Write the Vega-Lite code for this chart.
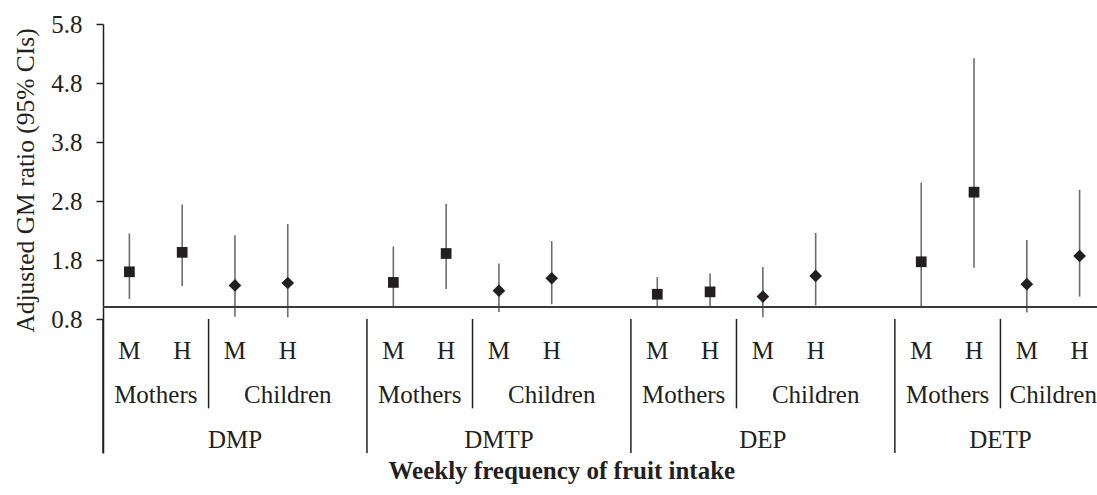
{
  "$schema": "https://vega.github.io/schema/vega-lite/v6.json",
  "width": 994,
  "height": 429,
  "autosize": {"type": "none"},
  "padding": {"left": 103, "top": 24, "right": 0, "bottom": 42},
  "background": "white",
  "config": {
    "view": {"stroke": null},
    "font": "Liberation Serif",
    "text": {"font": "Liberation Serif"}
  },
  "title": {
    "text": "Weekly frequency of fruit intake",
    "orient": "bottom",
    "anchor": "middle",
    "frame": "bounds",
    "font": "Liberation Serif",
    "fontSize": 25,
    "fontWeight": "bold",
    "color": "#231f20",
    "offset": 5,
    "dx": 6
  },
  "datasets": {
    "est": [
      {"slot": "DMP-Mothers-M", "index": "DMP", "who": "Mothers", "freq": "M", "gm": 1.60, "lo": 1.14, "hi": 2.25},
      {"slot": "DMP-Mothers-H", "index": "DMP", "who": "Mothers", "freq": "H", "gm": 1.93, "lo": 1.36, "hi": 2.74},
      {"slot": "DMP-Children-M", "index": "DMP", "who": "Children", "freq": "M", "gm": 1.37, "lo": 0.84, "hi": 2.22},
      {"slot": "DMP-Children-H", "index": "DMP", "who": "Children", "freq": "H", "gm": 1.41, "lo": 0.83, "hi": 2.41},
      {"slot": "DMTP-Mothers-M", "index": "DMTP", "who": "Mothers", "freq": "M", "gm": 1.42, "lo": 1.00, "hi": 2.03},
      {"slot": "DMTP-Mothers-H", "index": "DMTP", "who": "Mothers", "freq": "H", "gm": 1.91, "lo": 1.31, "hi": 2.75},
      {"slot": "DMTP-Children-M", "index": "DMTP", "who": "Children", "freq": "M", "gm": 1.28, "lo": 0.92, "hi": 1.74},
      {"slot": "DMTP-Children-H", "index": "DMTP", "who": "Children", "freq": "H", "gm": 1.49, "lo": 1.05, "hi": 2.12},
      {"slot": "DEP-Mothers-M", "index": "DEP", "who": "Mothers", "freq": "M", "gm": 1.22, "lo": 1.00, "hi": 1.51},
      {"slot": "DEP-Mothers-H", "index": "DEP", "who": "Mothers", "freq": "H", "gm": 1.26, "lo": 1.00, "hi": 1.57},
      {"slot": "DEP-Children-M", "index": "DEP", "who": "Children", "freq": "M", "gm": 1.18, "lo": 0.83, "hi": 1.68},
      {"slot": "DEP-Children-H", "index": "DEP", "who": "Children", "freq": "H", "gm": 1.53, "lo": 1.03, "hi": 2.26},
      {"slot": "DETP-Mothers-M", "index": "DETP", "who": "Mothers", "freq": "M", "gm": 1.77, "lo": 1.00, "hi": 3.11},
      {"slot": "DETP-Mothers-H", "index": "DETP", "who": "Mothers", "freq": "H", "gm": 2.95, "lo": 1.67, "hi": 5.22},
      {"slot": "DETP-Children-M", "index": "DETP", "who": "Children", "freq": "M", "gm": 1.39, "lo": 0.91, "hi": 2.14},
      {"slot": "DETP-Children-H", "index": "DETP", "who": "Children", "freq": "H", "gm": 1.87, "lo": 1.18, "hi": 2.99}
    ],
    "labels": [
      {"text": "M", "slot": "DMP-Mothers-M", "level": 1, "span": "mid"},
      {"text": "H", "slot": "DMP-Mothers-H", "level": 1, "span": "mid"},
      {"text": "M", "slot": "DMP-Children-M", "level": 1, "span": "mid"},
      {"text": "H", "slot": "DMP-Children-H", "level": 1, "span": "mid"},
      {"text": "M", "slot": "DMTP-Mothers-M", "level": 1, "span": "mid"},
      {"text": "H", "slot": "DMTP-Mothers-H", "level": 1, "span": "mid"},
      {"text": "M", "slot": "DMTP-Children-M", "level": 1, "span": "mid"},
      {"text": "H", "slot": "DMTP-Children-H", "level": 1, "span": "mid"},
      {"text": "M", "slot": "DEP-Mothers-M", "level": 1, "span": "mid"},
      {"text": "H", "slot": "DEP-Mothers-H", "level": 1, "span": "mid"},
      {"text": "M", "slot": "DEP-Children-M", "level": 1, "span": "mid"},
      {"text": "H", "slot": "DEP-Children-H", "level": 1, "span": "mid"},
      {"text": "M", "slot": "DETP-Mothers-M", "level": 1, "span": "mid"},
      {"text": "H", "slot": "DETP-Mothers-H", "level": 1, "span": "mid"},
      {"text": "M", "slot": "DETP-Children-M", "level": 1, "span": "mid"},
      {"text": "H", "slot": "DETP-Children-H", "level": 1, "span": "mid"},
      {"text": "Mothers", "slot": "DMP-Mothers-M", "level": 2, "span": "edge"},
      {"text": "Children", "slot": "DMP-Children-H", "level": 2, "span": "mid"},
      {"text": "Mothers", "slot": "DMTP-Mothers-M", "level": 2, "span": "edge"},
      {"text": "Children", "slot": "DMTP-Children-H", "level": 2, "span": "mid"},
      {"text": "Mothers", "slot": "DEP-Mothers-M", "level": 2, "span": "edge"},
      {"text": "Children", "slot": "DEP-Children-H", "level": 2, "span": "mid"},
      {"text": "Mothers", "slot": "DETP-Mothers-M", "level": 2, "span": "edge"},
      {"text": "Children", "slot": "DETP-Children-M", "level": 2, "span": "edge"},
      {"text": "DMP", "slot": "DMP-Children-M", "level": 3, "span": "mid"},
      {"text": "DMTP", "slot": "DMTP-Children-M", "level": 3, "span": "mid"},
      {"text": "DEP", "slot": "DEP-Children-M", "level": 3, "span": "mid"},
      {"text": "DETP", "slot": "DETP-Mothers-H", "level": 3, "span": "edge"}
    ],
    "separators": [
      {"slot": "DMP-Mothers-M", "depth": 3},
      {"slot": "DMP-Children-M", "depth": 2},
      {"slot": "DMTP-Mothers-M", "depth": 3},
      {"slot": "DMTP-Children-M", "depth": 2},
      {"slot": "DEP-Mothers-M", "depth": 3},
      {"slot": "DEP-Children-M", "depth": 2},
      {"slot": "DETP-Mothers-M", "depth": 3},
      {"slot": "DETP-Children-M", "depth": 2}
    ]
  },
  "layer": [
    {
      "layer": [
        {
          "data": {"name": "est"},
          "mark": {"type": "rule", "color": "#6d6d6d", "strokeWidth": 1.6},
          "encoding": {
            "x": {"field": "slot", "type": "nominal", "axis": null,
              "scale": {"type": "band", "paddingInner": 0, "paddingOuter": 0, "range": [0, 1003],
                "domain": ["DMP-Mothers-M","DMP-Mothers-H","DMP-Children-M","DMP-Children-H","DMP-gap","DMTP-Mothers-M","DMTP-Mothers-H","DMTP-Children-M","DMTP-Children-H","DMTP-gap","DEP-Mothers-M","DEP-Mothers-H","DEP-Children-M","DEP-Children-H","DEP-gap","DETP-Mothers-M","DETP-Mothers-H","DETP-Children-M","DETP-Children-H"]}},
            "y": {"field": "lo", "type": "quantitative",
              "scale": {"domain": [-1.471, 5.8], "nice": false, "zero": false},
              "axis": {
                "values": [0.8, 1.8, 2.8, 3.8, 4.8, 5.8],
                "format": ".1f",
                "grid": false,
                "domainColor": "#231f20",
                "domainWidth": 1.5,
                "tickColor": "#231f20",
                "tickWidth": 1.5,
                "tickSize": 7,
                "labelPadding": 14,
                "labelFont": "Liberation Serif",
                "labelFontSize": 25,
                "labelColor": "#231f20",
                "title": "Adjusted GM ratio (95% CIs)",
                "titleFont": "Liberation Serif",
                "titleFontSize": 25.5,
                "titleFontWeight": "normal",
                "titleColor": "#231f20",
                "titlePadding": 12,
                "titleY": 156
              }},
            "y2": {"field": "hi"}
          }
        },
        {
          "data": {"name": "est"},
          "mark": {"type": "rule", "color": "#3a3a3a", "strokeWidth": 1.6},
          "encoding": {
            "y": {"datum": 1, "type": "quantitative"}
          }
        },
        {
          "data": {"name": "est"},
          "mark": {"type": "point", "filled": true, "opacity": 1, "color": "#231f20"},
          "encoding": {
            "x": {"field": "slot", "type": "nominal"},
            "y": {"field": "gm", "type": "quantitative"},
            "shape": {"field": "who", "type": "nominal",
              "scale": {"domain": ["Mothers", "Children"], "range": ["square", "diamond"]},
              "legend": null},
            "size": {"field": "who", "type": "nominal",
              "scale": {"domain": ["Mothers", "Children"], "range": [115, 160]},
              "legend": null}
          }
        }
      ]
    },
    {
      "layer": [
        {
          "data": {"name": "separators"},
          "mark": {"type": "rule", "color": "#231f20", "strokeWidth": 1.5},
          "encoding": {
            "x": {"field": "slot", "type": "nominal", "bandPosition": 0},
            "y": {"field": "depth", "type": "quantitative",
              "scale": {"domain": [-6.6, 3], "reverse": true, "nice": false, "zero": false},
              "axis": null},
            "y2": {"datum": 0}
          }
        },
        {
          "data": {"name": "labels"},
          "transform": [{"filter": "datum.span === 'mid'"}],
          "mark": {"type": "text", "font": "Liberation Serif", "fontSize": 25, "color": "#231f20", "baseline": "middle", "align": "center", "dy": -13},
          "encoding": {
            "x": {"field": "slot", "type": "nominal", "bandPosition": 0.5},
            "y": {"field": "level", "type": "quantitative", "axis": null},
            "text": {"field": "text"}
          }
        },
        {
          "data": {"name": "labels"},
          "transform": [{"filter": "datum.span === 'edge'"}],
          "mark": {"type": "text", "font": "Liberation Serif", "fontSize": 25, "color": "#231f20", "baseline": "middle", "align": "center", "dy": -13},
          "encoding": {
            "x": {"field": "slot", "type": "nominal", "bandPosition": 1},
            "y": {"field": "level", "type": "quantitative", "axis": null},
            "text": {"field": "text"}
          }
        }
      ]
    }
  ],
  "resolve": {"scale": {"y": "independent"}, "axis": {"y": "independent"}}
}
